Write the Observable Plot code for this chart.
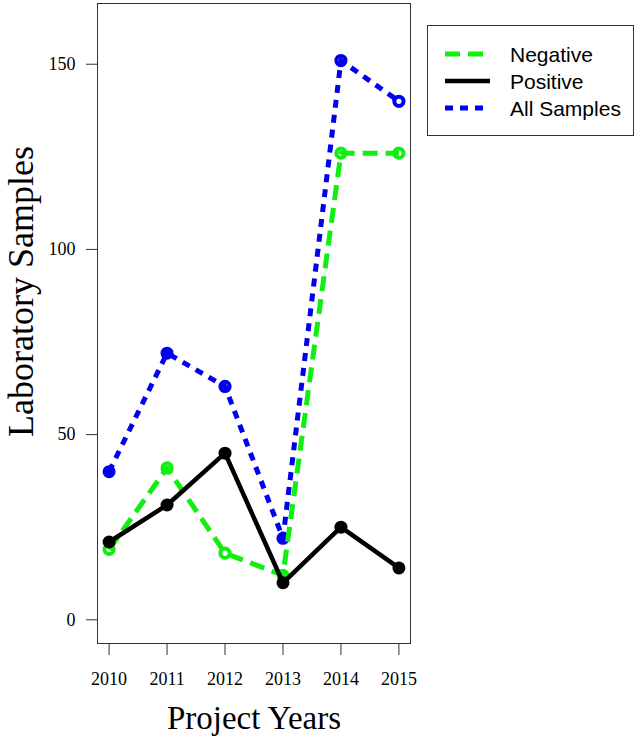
<!DOCTYPE html>
<html>
<head>
<meta charset="utf-8">
<script src="https://cdn.jsdelivr.net/npm/d3@7"></script>
<script src="https://cdn.jsdelivr.net/npm/@observablehq/plot@0.6"></script>
<style>
  html, body { margin: 0; padding: 0; background: #fff; }
  #wrap { position: relative; width: 641px; height: 738px; color: #000; }
  #legend { position: absolute; left: 427px; top: 25px; width: 207px; height: 111px;
            box-sizing: border-box; border: 1px solid #333; background: #fff; }
</style>
</head>
<body>
<div id="wrap"><div id="chart"></div><div id="legend"></div></div>
<script>
// ---- data ----
const years = [2010, 2011, 2012, 2013, 2014, 2015];
const negative = [19, 41, 18, 12, 126, 126];
const positive = [21, 31, 45, 10, 25, 14];
const allSamples = [40, 72, 63, 22, 151, 140];
const negativeMarkers = ["open", "open", "open", "open", "open", "open"];
const positiveMarkers = ["filled", "filled", "filled", "filled", "filled", "filled"];
const allMarkers = ["filled", "filled", "open", "filled", "open", "open"];
const seriesNames = ["Negative", "Positive", "All Samples"];
const yTicks = [0, 50, 100, 150];
const xTitle = "Project Years";
const yTitle = "Laboratory Samples";

// ---- styles ----
const colors = {"Negative": "#11ee11", "Positive": "#000000", "All Samples": "#0000ee"};
const dashes = {"Negative": "15,8", "Positive": null, "All Samples": "8,7"};
const widths = {"Negative": 5, "Positive": 4.5, "All Samples": 5};

const rows = (name, vals, markers) => years.map((y, i) => ({series: name, year: y, value: vals[i], marker: markers[i]}));
const negRows = rows("Negative", negative, negativeMarkers);
const posRows = rows("Positive", positive, positiveMarkers);
const allRows = rows("All Samples", allSamples, allMarkers);

function seriesMarks(data, name) {
  const c = colors[name];
  const lineOpts = {x: "year", y: "value", stroke: c, strokeWidth: widths[name], strokeLinecap: "butt", strokeLinejoin: "round"};
  if (dashes[name]) lineOpts.strokeDasharray = dashes[name];
  return [
    Plot.line(data, lineOpts),
    Plot.dot(data.filter(d => d.marker === "filled"), {x: "year", y: "value", r: 6.5, fill: c, stroke: "none"}),
    Plot.dot(data.filter(d => d.marker === "open"), {x: "year", y: "value", r: 4.6, fill: "none", stroke: c, strokeWidth: 4})
  ];
}

const serif = "'Liberation Serif', 'Times New Roman', serif";

const chart = Plot.plot({
  width: 641,
  height: 738,
  marginLeft: 97,
  marginRight: 231,
  marginTop: 3,
  marginBottom: 95,
  style: {fontFamily: serif, background: "#fff", color: "#000"},
  x: {domain: [2009.8, 2015.2]},
  y: {domain: [-6.4, 166.4]},
  marks: [
    Plot.frame({stroke: "#333", strokeWidth: 1}),
    Plot.axisX(years, {tickSize: 12, tickPadding: 17, fontSize: 18, tickFormat: d => String(d), label: null, stroke: "#333"}),
    Plot.axisY(yTicks, {tickSize: 11, tickPadding: 11, fontSize: 18, label: null, stroke: "#333"}),
    ...seriesMarks(allRows, "All Samples"),
    ...seriesMarks(negRows, "Negative"),
    ...seriesMarks(posRows, "Positive"),
    Plot.text([xTitle], {frameAnchor: "bottom", dy: 75, lineAnchor: "middle", textAnchor: "middle", fontSize: 33, text: d => d, fill: "#000"}),
    Plot.text([yTitle], {frameAnchor: "left", rotate: -90, dx: -76, dy: -32, lineAnchor: "middle", textAnchor: "middle", fontSize: 36, text: d => d, fill: "#000"})
  ]
});
document.getElementById("chart").appendChild(chart);

// ---- legend ----
const lg = d3.select("#legend").append("svg").attr("width", 205).attr("height", 109)
  .style("display", "block");
const rowY = [28, 55, 82];
seriesNames.forEach((name, i) => {
  const ln = lg.append("line").attr("x1", 17).attr("x2", 62).attr("y1", rowY[i]).attr("y2", rowY[i])
    .attr("stroke", colors[name]).attr("stroke-width", widths[name]);
  if (dashes[name]) ln.attr("stroke-dasharray", dashes[name]);
  lg.append("text").attr("x", 82).attr("y", rowY[i] + 7.5).text(name)
    .attr("font-family", "'Liberation Sans', Arial, sans-serif").attr("font-size", 21).attr("fill", "#000");
});
</script>
</body>
</html>
